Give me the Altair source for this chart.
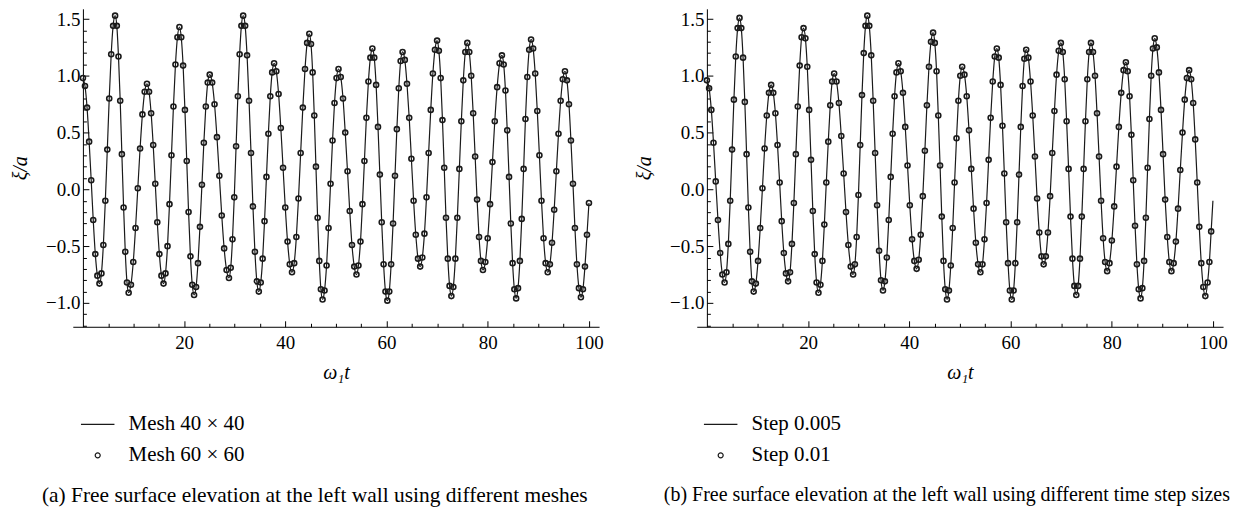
import altair as alt
import pandas as pd

F = "Liberation Serif"
INK = "#1a1a1a"

# ---------------- data ----------------
# (a) Mesh 40 x 40 (line) and Mesh 60 x 60 (circles) coincide; one set of readings
t_a = [
    0.00, 0.41, 0.82, 1.23, 1.64, 2.04, 2.45, 2.86,
    3.27, 3.66, 4.04, 4.43, 4.82, 5.20, 5.59, 5.97,
    6.36, 6.70, 7.03, 7.37, 7.70, 8.04, 8.37, 8.71,
    9.04, 9.49, 9.95, 10.40, 10.85, 11.30, 11.76, 12.21,
    12.66, 13.07, 13.48, 13.89, 14.30, 14.70, 15.11, 15.52,
    15.93, 16.32, 16.72, 17.11, 17.50, 17.89, 18.29, 18.68,
    19.07, 19.43, 19.80, 20.16, 20.52, 20.88, 21.25, 21.61,
    21.97, 22.36, 22.74, 23.13, 23.52, 23.90, 24.29, 24.67,
    25.06, 25.54, 26.01, 26.49, 26.96, 27.44, 27.91, 28.39,
    28.86, 29.21, 29.56, 29.91, 30.27, 30.62, 30.97, 31.32,
    31.67, 32.06, 32.44, 32.83, 33.22, 33.60, 33.99, 34.37,
    34.76, 35.14, 35.52, 35.89, 36.27, 36.65, 37.03, 37.40,
    37.78, 38.22, 38.67, 39.11, 39.55, 39.99, 40.44, 40.88,
    41.32, 41.75, 42.18, 42.60, 43.03, 43.46, 43.89, 44.31,
    44.74, 45.07, 45.40, 45.72, 46.05, 46.38, 46.71, 47.03,
    47.36, 47.75, 48.15, 48.54, 48.94, 49.33, 49.72, 50.12,
    50.51, 50.95, 51.40, 51.84, 52.29, 52.73, 53.17, 53.62,
    54.06, 54.45, 54.85, 55.24, 55.63, 56.02, 56.42, 56.81,
    57.20, 57.57, 57.94, 58.31, 58.68, 59.05, 59.42, 59.79,
    60.16, 60.54, 60.91, 61.29, 61.67, 62.04, 62.42, 62.79,
    63.17, 63.61, 64.04, 64.48, 64.91, 65.35, 65.78, 66.22,
    66.65, 67.07, 67.49, 67.90, 68.32, 68.74, 69.16, 69.57,
    69.99, 70.34, 70.70, 71.05, 71.40, 71.75, 72.11, 72.46,
    72.81, 73.20, 73.60, 73.99, 74.39, 74.78, 75.17, 75.57,
    75.96, 76.35, 76.73, 77.12, 77.51, 77.89, 78.28, 78.66,
    79.05, 79.52, 79.99, 80.46, 80.93, 81.39, 81.86, 82.33,
    82.80, 83.15, 83.50, 83.85, 84.21, 84.56, 84.91, 85.26,
    85.61, 85.98, 86.35, 86.72, 87.09, 87.45, 87.82, 88.19,
    88.56, 88.97, 89.38, 89.79, 90.21, 90.62, 91.03, 91.44,
    91.85, 92.28, 92.70, 93.13, 93.56, 93.98, 94.41, 94.83,
    95.26, 95.65, 96.05, 96.44, 96.84, 97.23, 97.62, 98.02,
    98.41, 98.81, 99.21, 99.61, 100.00,
]
xi_a = [
    0.98, 0.91, 0.72, 0.42, 0.08, -0.27, -0.57, -0.76,
    -0.83, -0.74, -0.49, -0.10, 0.35, 0.80, 1.19, 1.44,
    1.53, 1.44, 1.17, 0.78, 0.31, -0.16, -0.55, -0.82,
    -0.91, -0.84, -0.64, -0.34, 0.01, 0.36, 0.66, 0.86,
    0.93, 0.86, 0.67, 0.39, 0.05, -0.29, -0.57, -0.76,
    -0.83, -0.74, -0.50, -0.13, 0.30, 0.73, 1.10, 1.34,
    1.43, 1.34, 1.09, 0.70, 0.25, -0.20, -0.59, -0.84,
    -0.93, -0.86, -0.65, -0.33, 0.04, 0.41, 0.73, 0.94,
    1.01, 0.94, 0.75, 0.46, 0.12, -0.23, -0.52, -0.71,
    -0.78, -0.69, -0.44, -0.07, 0.38, 0.82, 1.19, 1.44,
    1.53, 1.44, 1.18, 0.78, 0.32, -0.15, -0.55, -0.81,
    -0.90, -0.82, -0.61, -0.28, 0.11, 0.49, 0.82, 1.03,
    1.11, 1.04, 0.84, 0.54, 0.19, -0.16, -0.46, -0.66,
    -0.73, -0.65, -0.42, -0.08, 0.32, 0.72, 1.06, 1.29,
    1.37, 1.28, 1.03, 0.65, 0.20, -0.25, -0.63, -0.88,
    -0.97, -0.89, -0.67, -0.34, 0.05, 0.43, 0.76, 0.98,
    1.06, 0.99, 0.80, 0.50, 0.16, -0.19, -0.49, -0.68,
    -0.75, -0.67, -0.46, -0.13, 0.25, 0.63, 0.95, 1.16,
    1.24, 1.16, 0.92, 0.55, 0.13, -0.29, -0.66, -0.90,
    -0.98, -0.90, -0.66, -0.30, 0.12, 0.53, 0.89, 1.13,
    1.21, 1.14, 0.93, 0.63, 0.27, -0.10, -0.40, -0.61,
    -0.68, -0.60, -0.39, -0.07, 0.32, 0.70, 1.02, 1.23,
    1.31, 1.22, 0.98, 0.61, 0.19, -0.25, -0.61, -0.85,
    -0.94, -0.86, -0.61, -0.25, 0.18, 0.60, 0.96, 1.21,
    1.29, 1.21, 1.00, 0.67, 0.29, -0.09, -0.42, -0.63,
    -0.71, -0.64, -0.43, -0.13, 0.24, 0.60, 0.90, 1.11,
    1.18, 1.10, 0.87, 0.52, 0.11, -0.30, -0.65, -0.88,
    -0.96, -0.87, -0.63, -0.26, 0.18, 0.62, 0.99, 1.23,
    1.32, 1.24, 1.02, 0.69, 0.30, -0.10, -0.43, -0.65,
    -0.73, -0.66, -0.47, -0.18, 0.16, 0.49, 0.78, 0.97,
    1.04, 0.96, 0.75, 0.43, 0.05, -0.34, -0.66, -0.87,
    -0.95, -0.88, -0.68, -0.40, -0.12,
]

# (b) Step 0.005 (line) and Step 0.01 (circles) coincide; one set of readings
t_b = [
    0.00, 0.44, 0.88, 1.31, 1.75, 2.19, 2.63, 3.06,
    3.50, 3.87, 4.24, 4.61, 4.98, 5.34, 5.71, 6.08,
    6.45, 6.80, 7.15, 7.50, 7.85, 8.20, 8.55, 8.90,
    9.25, 9.68, 10.11, 10.54, 10.98, 11.41, 11.84, 12.27,
    12.70, 13.12, 13.54, 13.96, 14.38, 14.79, 15.21, 15.63,
    16.05, 16.43, 16.81, 17.19, 17.58, 17.96, 18.34, 18.72,
    19.10, 19.47, 19.84, 20.21, 20.58, 20.94, 21.31, 21.68,
    22.05, 22.44, 22.83, 23.21, 23.60, 23.99, 24.38, 24.76,
    25.15, 25.62, 26.09, 26.56, 27.03, 27.49, 27.96, 28.43,
    28.90, 29.25, 29.60, 29.95, 30.30, 30.65, 31.00, 31.35,
    31.70, 32.09, 32.48, 32.86, 33.25, 33.64, 34.03, 34.41,
    34.80, 35.18, 35.56, 35.94, 36.33, 36.71, 37.09, 37.47,
    37.85, 38.30, 38.75, 39.20, 39.65, 40.10, 40.55, 41.00,
    41.45, 41.86, 42.26, 42.67, 43.08, 43.48, 43.89, 44.29,
    44.70, 45.04, 45.39, 45.73, 46.08, 46.42, 46.76, 47.11,
    47.45, 47.83, 48.20, 48.58, 48.95, 49.33, 49.70, 50.08,
    50.45, 50.90, 51.35, 51.80, 52.25, 52.70, 53.15, 53.60,
    54.05, 54.46, 54.86, 55.27, 55.68, 56.08, 56.49, 56.89,
    57.30, 57.67, 58.04, 58.41, 58.78, 59.14, 59.51, 59.88,
    60.25, 60.61, 60.96, 61.32, 61.68, 62.03, 62.39, 62.74,
    63.10, 63.53, 63.96, 64.39, 64.83, 65.26, 65.69, 66.12,
    66.55, 66.98, 67.40, 67.83, 68.25, 68.68, 69.10, 69.53,
    69.95, 70.33, 70.71, 71.09, 71.48, 71.86, 72.24, 72.62,
    73.00, 73.36, 73.73, 74.09, 74.45, 74.81, 75.18, 75.54,
    75.90, 76.30, 76.70, 77.10, 77.50, 77.90, 78.30, 78.70,
    79.10, 79.56, 80.03, 80.49, 80.95, 81.41, 81.88, 82.34,
    82.80, 83.16, 83.53, 83.89, 84.25, 84.61, 84.98, 85.34,
    85.70, 86.05, 86.40, 86.75, 87.10, 87.45, 87.80, 88.15,
    88.50, 88.91, 89.33, 89.74, 90.15, 90.56, 90.98, 91.39,
    91.80, 92.24, 92.68, 93.11, 93.55, 93.99, 94.43, 94.86,
    95.30, 95.70, 96.10, 96.50, 96.90, 97.30, 97.70, 98.10,
    98.50, 98.95, 99.30, 99.65, 100.00,
]
xi_b = [
    0.96, 0.89, 0.70, 0.41, 0.07, -0.27, -0.56, -0.75,
    -0.82, -0.73, -0.48, -0.10, 0.35, 0.79, 1.17, 1.42,
    1.51, 1.42, 1.16, 0.77, 0.31, -0.16, -0.55, -0.81,
    -0.90, -0.83, -0.63, -0.34, 0.01, 0.36, 0.65, 0.85,
    0.92, 0.85, 0.67, 0.39, 0.06, -0.28, -0.56, -0.74,
    -0.81, -0.73, -0.48, -0.12, 0.31, 0.73, 1.09, 1.34,
    1.42, 1.33, 1.08, 0.70, 0.26, -0.19, -0.57, -0.82,
    -0.91, -0.84, -0.63, -0.31, 0.06, 0.42, 0.74, 0.95,
    1.02, 0.95, 0.76, 0.47, 0.14, -0.20, -0.49, -0.68,
    -0.75, -0.66, -0.42, -0.05, 0.39, 0.83, 1.20, 1.44,
    1.53, 1.44, 1.18, 0.78, 0.32, -0.14, -0.54, -0.80,
    -0.89, -0.81, -0.60, -0.27, 0.11, 0.49, 0.82, 1.03,
    1.11, 1.04, 0.85, 0.55, 0.21, -0.14, -0.44, -0.63,
    -0.70, -0.62, -0.40, -0.06, 0.34, 0.74, 1.08, 1.30,
    1.38, 1.29, 1.04, 0.65, 0.21, -0.24, -0.63, -0.88,
    -0.97, -0.89, -0.67, -0.34, 0.06, 0.45, 0.78, 1.00,
    1.08, 1.01, 0.82, 0.52, 0.18, -0.17, -0.47, -0.66,
    -0.73, -0.66, -0.44, -0.12, 0.26, 0.63, 0.95, 1.17,
    1.24, 1.16, 0.92, 0.56, 0.14, -0.29, -0.65, -0.89,
    -0.97, -0.89, -0.65, -0.29, 0.13, 0.55, 0.91, 1.15,
    1.23, 1.16, 0.95, 0.65, 0.29, -0.08, -0.38, -0.59,
    -0.66, -0.59, -0.38, -0.06, 0.32, 0.69, 1.01, 1.22,
    1.29, 1.21, 0.97, 0.60, 0.18, -0.24, -0.61, -0.85,
    -0.93, -0.85, -0.61, -0.24, 0.18, 0.60, 0.97, 1.21,
    1.29, 1.21, 1.00, 0.67, 0.29, -0.10, -0.43, -0.64,
    -0.72, -0.65, -0.45, -0.15, 0.20, 0.55, 0.85, 1.05,
    1.12, 1.04, 0.82, 0.48, 0.08, -0.32, -0.66, -0.88,
    -0.96, -0.87, -0.63, -0.25, 0.19, 0.62, 1.00, 1.24,
    1.33, 1.25, 1.03, 0.70, 0.31, -0.09, -0.42, -0.64,
    -0.72, -0.65, -0.46, -0.17, 0.17, 0.50, 0.79, 0.98,
    1.05, 0.97, 0.76, 0.44, 0.06, -0.33, -0.65, -0.86,
    -0.94, -0.82, -0.64, -0.37, -0.10,
]

names_a = ["Mesh 40 × 40", "Mesh 60 × 60"]
names_b = ["Step 0.005", "Step 0.01"]
caption_a = "(a)  Free surface elevation at the left wall using different meshes"
caption_b = "(b)  Free surface elevation at the left wall using different time step sizes"

x_major = [20, 40, 60, 80, 100]
x_minor = [5, 10, 15, 25, 30, 35, 45, 50, 55, 65, 70, 75, 85, 90, 95]
y_major = [-1.0, -0.5, 0.0, 0.5, 1.0, 1.5]
y_minor = [-1.2, -1.1, -0.9, -0.8, -0.7, -0.6, -0.4, -0.3, -0.2, -0.1,
           0.1, 0.2, 0.3, 0.4, 0.6, 0.7, 0.8, 0.9, 1.1, 1.2, 1.3, 1.4]

assert len(t_a) == len(xi_a) and len(t_b) == len(xi_b)

# ---------------- layout / style ----------------
W, H = 528, 319
XDOM = [-2, 102]
YDOM = [-1.21, 1.59]
X0 = W * (0 - XDOM[0]) / (XDOM[1] - XDOM[0])   # pixel of t = 0 inside the plot

SYM_SIZE = 784                                 # 28 px symbol box
LINE_SYM = "M-1.2,0H1.2"                       # legend line sample (~34 px)
CIRCLE_SYM = "M0.18,0A0.18,0.18,0,1,1,-0.18,0A0.18,0.18,0,1,1,0.18,0Z"


def panel(t, xi, names, caption, leg_x, cap_dx, cap_size, circle_max_t):
    df = pd.DataFrame({"t": t, "xi": xi})
    df["series"] = names[1]
    xs = alt.Scale(domain=XDOM, nice=False, zero=False)
    ys = alt.Scale(domain=YDOM, nice=False, zero=False)
    base = alt.Chart(df)

    x_lab = alt.Axis(orient="bottom", values=x_major, format="d", ticks=False,
                     domain=True, domainColor="black", domainWidth=1,
                     labelFont=F, labelFontSize=19, labelColor="black",
                     labelPadding=7, labelFlush=False,
                     title="ω₁t", titleFont=F, titleFontSize=20,
                     titleFontStyle="italic", titleFontWeight="normal",
                     titleColor="black", titlePadding=10, grid=False)
    y_lab = alt.Axis(orient="left", offset=-X0, values=y_major, format=".1f",
                     ticks=False, domain=True, domainColor="black", domainWidth=1,
                     labelFont=F, labelFontSize=19, labelColor="black",
                     labelPadding=3, labelFlush=False,
                     title="ξ/a", titleFont=F, titleFontSize=20,
                     titleFontStyle="italic", titleFontWeight="normal",
                     titleColor="black", titlePadding=15, grid=False)

    def tick_axis(orient, offset, vals, size):
        return alt.Axis(orient=orient, offset=offset, values=vals, labels=False,
                        domain=False, ticks=True, tickSize=size, tickColor="black",
                        tickWidth=1, title=None, grid=False)

    line = base.mark_line(interpolate="monotone", color=INK, strokeWidth=1.2).encode(
        x=alt.X("t:Q", scale=xs, axis=x_lab),
        y=alt.Y("xi:Q", scale=ys, axis=y_lab),
    )

    leg = alt.Legend(orient="none", legendX=leg_x, legendY=402, title=None,
                     labelFont=F, labelFontSize=21, labelColor="black",
                     labelOffset=16, rowPadding=6, symbolSize=SYM_SIZE,
                     symbolStrokeWidth=1.2, symbolStrokeColor=INK,
                     direction="vertical")
    pts = base.transform_filter(alt.datum.t <= circle_max_t).mark_point(
        filled=False, color=INK, strokeWidth=1.6, opacity=1, size=SYM_SIZE
    ).encode(
        x=alt.X("t:Q", scale=xs, axis=tick_axis("top", -H, x_major, 6)),
        y=alt.Y("xi:Q", scale=ys, axis=tick_axis("right", -(W - X0), y_major, 6)),
        shape=alt.Shape("series:N",
                        scale=alt.Scale(domain=names, range=[LINE_SYM, CIRCLE_SYM]),
                        legend=leg),
    )

    minor = base.mark_point(opacity=0).encode(
        x=alt.X("t:Q", scale=xs, axis=tick_axis("top", -H, x_minor, 3.5)),
        y=alt.Y("xi:Q", scale=ys, axis=tick_axis("right", -(W - X0), y_minor, 3.5)),
    )

    return alt.layer(line, pts, minor).resolve_axis(
        x="independent", y="independent"
    ).properties(
        width=W, height=H,
        title=alt.TitleParams(caption, orient="bottom", anchor="start", frame="group",
                              dx=cap_dx, offset=20, font=F, fontSize=cap_size,
                              fontWeight="normal", color="black"),
    )


pa = panel(t_a, xi_a, names_a, caption_a, 10, -31, 21.5, 100.5)
pb = panel(t_b, xi_b, names_b, caption_b, 9, -33, 20, 99.9)

chart = alt.hconcat(pa, pb, spacing=30).resolve_scale(
    x="independent", y="independent", shape="independent"
).resolve_legend(
    shape="independent"
).properties(
    padding={"left": 2, "top": 0, "right": 0, "bottom": 0}
).configure_view(strokeWidth=0).configure_axis(grid=False)

chart.save("out.html", embed_options={"renderer": "svg", "actions": False})
